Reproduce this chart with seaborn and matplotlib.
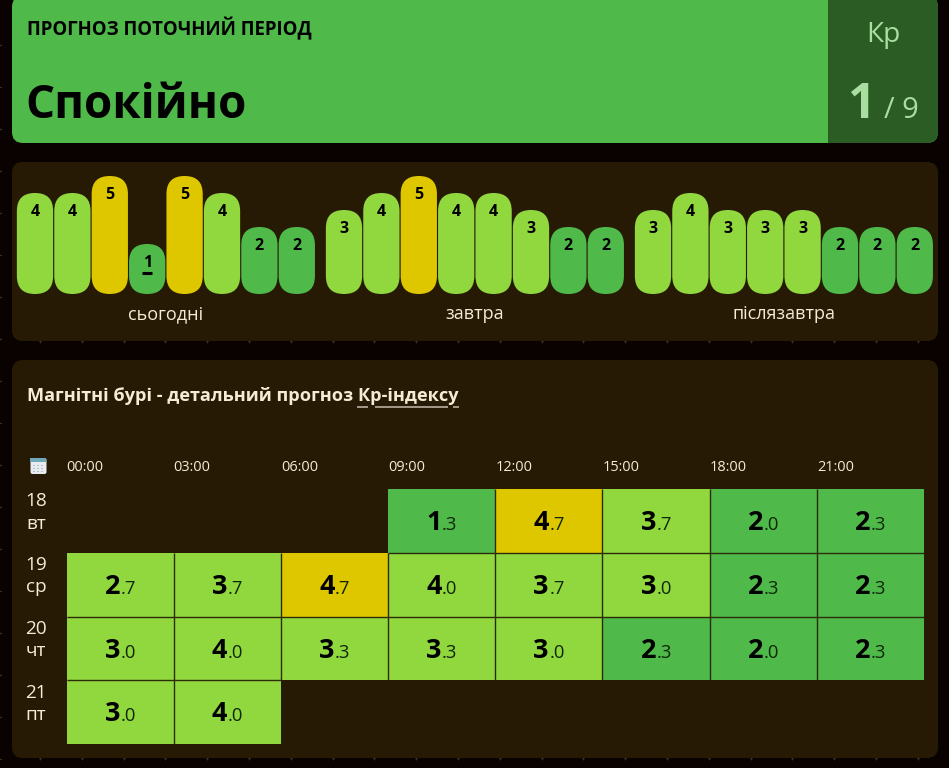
import numpy as np
import matplotlib
matplotlib.use('Agg')
import matplotlib.pyplot as plt
import seaborn as sns
from matplotlib.colors import ListedColormap, BoundaryNorm
from matplotlib.patches import FancyBboxPatch, Rectangle

# Data
banner_label = 'ПРОГНОЗ ПОТОЧНИЙ ПЕРІОД'
banner_status = 'Спокійно'
current_kp = 1
max_kp = 9

day_names = ['сьогодні', 'завтра', 'післязавтра']
today_bars = [4, 4, 5, 1, 5, 4, 2, 2]
tomorrow_bars = [3, 4, 5, 4, 4, 3, 2, 2]
after_bars = [3, 4, 3, 3, 3, 2, 2, 2]
current_slot = 3  # the underlined bar in today's group

table_title = 'Магнітні бурі - детальний прогноз '
table_link = 'Кр-індексу'
hours = ['00:00', '03:00', '06:00', '09:00', '12:00', '15:00', '18:00', '21:00']
days = ['18\nвт', '19\nср', '20\nчт', '21\nпт']
kp_18 = [np.nan, np.nan, np.nan, 1.3, 4.7, 3.7, 2.0, 2.3]
kp_19 = [2.7, 3.7, 4.7, 4.0, 3.7, 3.0, 2.3, 2.3]
kp_20 = [3.0, 4.0, 3.3, 3.3, 3.0, 2.3, 2.0, 2.3]
kp_21 = [3.0, 4.0, np.nan, np.nan, np.nan, np.nan, np.nan, np.nan]

# Colours
PAGE = '#0a0200'
PANEL = '#261a05'
GREEN = '#4fba4a'
LIME = '#91d83f'
YELLOW = '#dfc700'
DARK_GREEN = '#2a5c24'
PALE = '#a8dfa0'
CREAM = '#f5ecd5'
CELL_LINE = '#2c2a08'

W, H = 949, 768
PX = 72 / 100  # px -> pt at dpi 100


def level_colour(v):
    if v < 2.5:
        return GREEN
    if v < 4.5:
        return LIME
    return YELLOW


sns.set_theme(style='white')
plt.rcParams['font.family'] = ['Open Sans', 'Noto Sans', 'DejaVu Sans']

fig = plt.figure(figsize=(W / 100, H / 100), dpi=100, facecolor=PAGE)


def px_axes(left, top, right, bottom, **kw):
    return fig.add_axes([left / W, 1 - bottom / H, (right - left) / W, (bottom - top) / H], **kw)


# -------------------------
# Background panels, banner
# -------------------------
bg = px_axes(0, 0, W, H)
bg.set_xlim(0, W)
bg.set_ylim(H, 0)
bg.axis('off')
bg.set_facecolor(PAGE)


def panel(x0, y0, x1, y1, colour, r=11):
    p = FancyBboxPatch((x0, y0), x1 - x0, y1 - y0, boxstyle=f'round,pad=0,rounding_size={r}',
                       fc=colour, ec='none')
    bg.add_patch(p)
    return p


# little dots of the page pattern that peek out around the panels
notch_x = np.arange(40, W, 41.8)
bg.plot(notch_x, [341] * len(notch_x), 'v', color='#3a3020', ms=3.5, mew=0, zorder=0)
bg.plot(notch_x, [758] * len(notch_x), 'v', color='#3a3020', ms=3.5, mew=0, zorder=0)
for y in np.arange(45, H, 42):
    bg.plot([0, 1.2], [y, y], color='#3a3020', lw=1, zorder=0)

top_panel = panel(12, -4, 938, 143, GREEN)
side = Rectangle((828, -4), 112, 150, fc=DARK_GREEN, ec='none')
bg.add_patch(side)
side.set_clip_path(top_panel)
panel(12, 162, 938, 341, PANEL)
panel(12, 360, 938, 758, PANEL)

bg.text(27, 29, banner_label, fontsize=18.7 * PX, fontweight='bold', color='black', va='center')
bg.text(25.5, 118, banner_status, fontsize=45.8 * PX, fontweight='bold', color='black', va='baseline')
bg.text(883, 35, 'Кр', fontsize=28 * PX, color=PALE, ha='center', va='center')
bg.text(875, 118, str(current_kp), fontsize=49 * PX, fontweight='bold', color=PALE, ha='right', va='baseline')
bg.text(884, 118, f'/ {max_kp}', fontsize=29 * PX, color=PALE, ha='left', va='baseline')

# ---------------------
# Daily rounded bars
# ---------------------
groups = [today_bars, tomorrow_bars, after_bars]
lefts = [16.3, 325.3, 634.3]
BAR_TOP, BAR_BASE = 170, 294
UNIT = 17  # px per Kp level
BASE_PAD = 33  # px a bar keeps below level 0
SLOT = 37.4

for g, vals in enumerate(groups):
    ax = px_axes(lefts[g], BAR_TOP, lefts[g] + 8 * SLOT, BAR_BASE)
    ax.patch.set_alpha(0)
    slots = [str(i) for i in range(len(vals))]
    sns.barplot(x=slots, y=vals, hue=slots, palette=[level_colour(v) for v in vals],
                legend=False, width=0.97, saturation=1, ax=ax)
    ymin = -BASE_PAD / UNIT
    ymax = ymin + (BAR_BASE - BAR_TOP) / UNIT
    ax.set_ylim(ymin, ymax)
    ax.set_xlim(-0.5, 7.5)
    # swap the flat bars for rounded ones
    for bar in list(ax.patches):
        x, w, h = bar.get_x(), bar.get_width(), bar.get_height()
        rounded = FancyBboxPatch((x, ymin), w, h - ymin,
                                 boxstyle=f'round,pad=0,rounding_size={18 / SLOT}',
                                 mutation_aspect=SLOT / UNIT,
                                 fc=bar.get_facecolor(), ec='none')
        bar.set_visible(False)
        ax.add_patch(rounded)
    for i, v in enumerate(vals):
        ax.annotate(str(v), (i, v), xytext=(0, -19 * PX), textcoords='offset points',
                    ha='center', va='center', fontsize=16 * PX, fontweight='bold', color='black')
    if g == 0:
        ax.plot([current_slot - 0.13, current_slot + 0.13], [vals[current_slot] - 1.72] * 2,
                color='black', lw=2.2, solid_capstyle='butt')
    ax.set_xticks([])
    ax.set_yticks([])
    ax.set_xlabel(day_names[g], fontsize=18 * PX, color=CREAM, labelpad=11 * PX)
    ax.set_ylabel('')
    sns.despine(ax=ax, left=True, bottom=True)

# ---------------------
# Detailed Kp heatmap
# ---------------------
bg.text(27, 396, table_title + table_link, fontsize=18.2 * PX, fontweight='bold', color=CREAM, va='center')
for x0, x1 in [(357, 368), (375, 448), (453, 459)]:
    bg.plot([x0, x1], [406.5, 406.5], color='#b8b0a0', lw=1.2, solid_capstyle='butt')

# calendar icon
bg.add_patch(FancyBboxPatch((30.5, 458), 16, 16, boxstyle='round,pad=0,rounding_size=2', fc='#e8ecf0', ec='none'))
bg.add_patch(Rectangle((30.5, 458), 16, 4, fc='#6fa8b8', ec='none'))
for cx in [34.5, 38.5, 42.5]:
    for cy in [465.5, 468.5, 471.5]:
        bg.add_patch(Rectangle((cx - 1, cy - 0.8), 2, 1.6, fc='#b4c0c8', ec='none'))

kp_grid = np.array([kp_18, kp_19, kp_20, kp_21])
hm = px_axes(66.5, 489, 924, 744)
hm.patch.set_alpha(0)
cmap = ListedColormap([GREEN, LIME, YELLOW])
norm = BoundaryNorm([0, 2.5, 4.5, 9], cmap.N)
sns.heatmap(kp_grid, ax=hm, cmap=cmap, norm=norm, cbar=False, linewidths=0,
            square=False, xticklabels=False, yticklabels=False)
hm.xaxis.tick_top()
hm.set_xticks(np.arange(len(hours)))
hm.set_xticklabels(hours, ha='left', color=CREAM, fontsize=14.5 * PX, rotation=0)
hm.set_yticks(np.arange(len(days)) + 0.37)
hm.set_yticklabels(days, ha='center', va='center', color=CREAM, fontsize=19 * PX, rotation=0, linespacing=1.3)
hm.tick_params(axis='x', length=0, pad=14 * PX)
hm.tick_params(axis='y', length=0, pad=30.5 * PX)

n_rows, n_cols = kp_grid.shape
for r in range(n_rows):
    for c in range(n_cols):
        v = kp_grid[r, c]
        if np.isnan(v):
            continue
        # thin dark lines only between filled cells
        if c + 1 < n_cols and not np.isnan(kp_grid[r, c + 1]):
            hm.plot([c + 1, c + 1], [r, r + 1], color=CELL_LINE, lw=1, solid_capstyle='butt')
        if r + 1 < n_rows and not np.isnan(kp_grid[r + 1, c]):
            hm.plot([c, c + 1], [r + 1, r + 1], color=CELL_LINE, lw=1, solid_capstyle='butt')
        whole, frac = f'{v:.1f}'.split('.')
        hm.text(c + 0.5, r + 0.645, whole, ha='right', va='baseline', fontsize=27 * PX,
                fontweight='bold', color='black')
        hm.text(c + 0.503, r + 0.645, '.' + frac, ha='left', va='baseline', fontsize=18.5 * PX,
                color='#0f2608')

fig.savefig('out.png', dpi=100, facecolor=PAGE)
